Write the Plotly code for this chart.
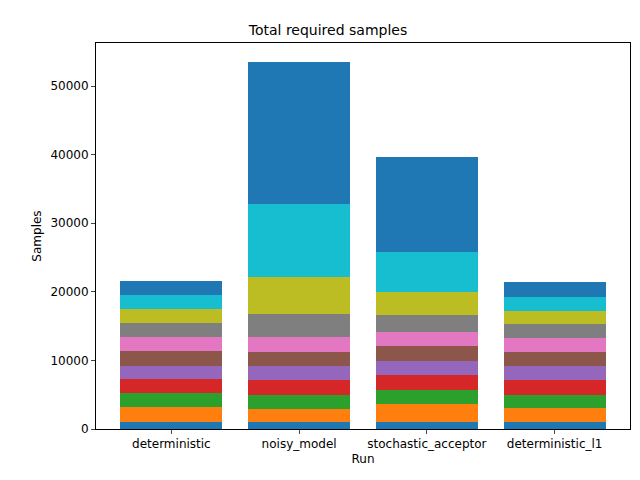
import plotly.graph_objects as go

runs = ["deterministic", "noisy_model", "stochastic_acceptor", "deterministic_l1"]
# per-stage sample counts (stacked segments, bottom to top)
stage_values = [
    [1020, 1020, 1020, 1020],
    [2190, 1900, 2620, 2040],
    [2040, 2040, 2050, 1900],
    [2040, 2180, 2180, 2180],
    [1890, 2040, 2040, 2040],
    [2190, 2040, 2190, 2040],
    [2040, 2190, 2040, 2050],
    [2040, 3350, 2480, 2040],
    [2040, 5400, 3350, 1890],
    [2040, 10640, 5830, 2040],
    [2040, 20700, 13800, 2190],
]
colors = ["#1f77b4", "#ff7f0e", "#2ca02c", "#d62728", "#9467bd", "#8c564b",
          "#e377c2", "#7f7f7f", "#bcbd22", "#17becf", "#1f77b4"]

fig = go.Figure()
for i, vals in enumerate(stage_values):
    fig.add_trace(go.Bar(x=runs, y=vals, marker=dict(color=colors[i], line=dict(width=0)),
                         width=0.8, showlegend=False))
fig.update_layout(
    barmode="stack", width=640, height=480, plot_bgcolor="white", paper_bgcolor="white",
    margin=dict(l=88, r=18, t=35, b=59, autoexpand=False),
    font=dict(family="DejaVu Sans", size=12, color="black"),
    title=dict(text="Total required samples", x=0.5, xanchor="center", y=0.955, yanchor="middle",
               font=dict(size=14)),
    bargap=0,
)
fig.update_xaxes(range=[-0.59, 3.59], showline=True, linecolor="black", mirror=True,
                 ticks="outside", ticklen=4, automargin=False,
                 title=dict(text="Run", standoff=4, font=dict(size=12)))
fig.update_yaxes(range=[0, 56270], showline=True, linecolor="black", mirror=True,
                 ticks="outside", ticklen=4, showgrid=False, zeroline=False, automargin=False,
                 tickvals=[0, 10000, 20000, 30000, 40000, 50000], tickformat="d",
                 title=dict(text="Samples", standoff=6, font=dict(size=12)))
fig.write_html("out.html")
